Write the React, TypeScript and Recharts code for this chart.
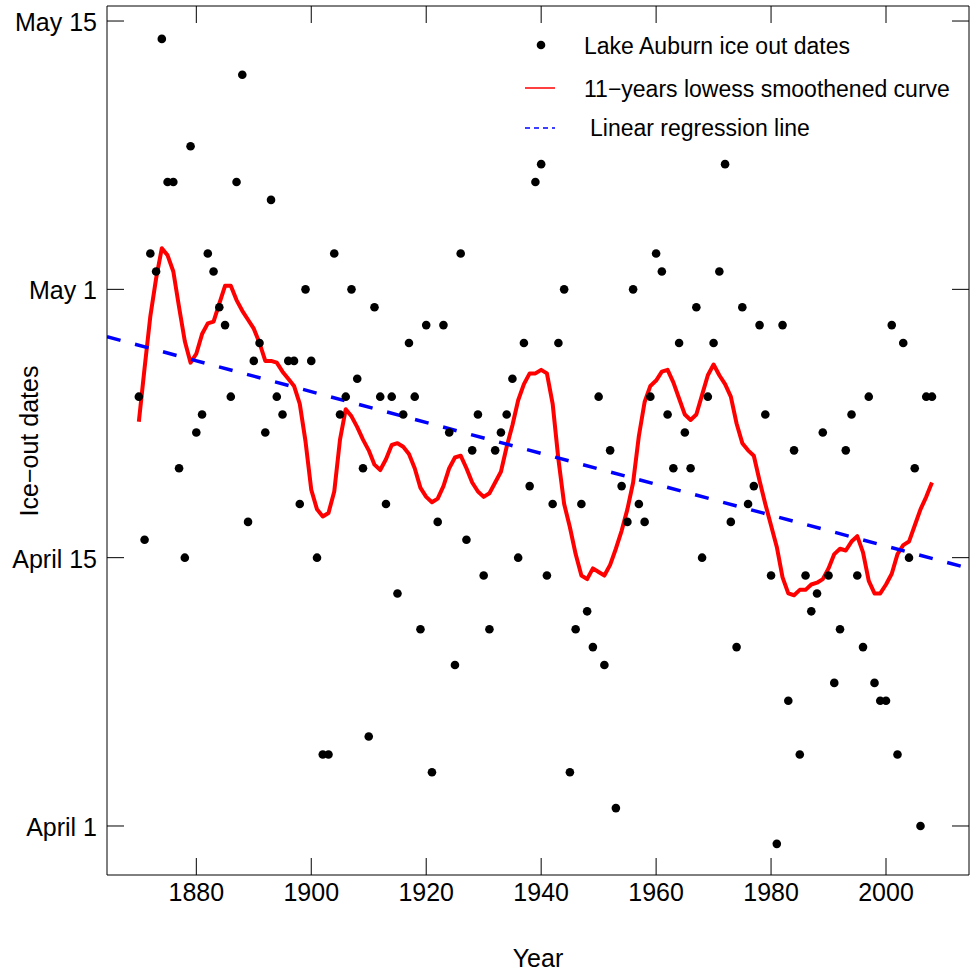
import React from "react";
import { ComposedChart, Line, Scatter, XAxis, YAxis } from "recharts";

// ice-out day, counted in days after April 1
const firstYear = 1870;
const iceOut = [
  24, 16, 32, 31, 44, 36, 36, 20, 15, 38,
  22, 23, 32, 31, 29, 28, 24, 36, 42, 17,
  26, 27, 22, 35, 24, 23, 26, 26, 18, 30,
  26, 15, 4, 4, 32, 23, 24, 30, 25, 20,
  5, 29, 24, 18, 24, 13, 23, 27, 24, 11,
  28, 3, 17, 28, 22, 9, 32, 16, 21, 23,
  14, 11, 21, 22, 23, 25, 15, 27, 19, 36,
  37, 14, 18, 27, 30, 3, 11, 18, 12, 10,
  24, 9, 21, 1, 19, 17, 30, 18, 17, 24,
  32, 31, 23, 20, 27, 22, 20, 29, 15, 24,
  27, 31, 37, 17, 10, 29, 18, 19, 28, 23,
  14, -1, 28, 7, 21, 4, 14, 12, 13, 22,
  14, 8, 11, 21, 23, 14, 10, 24, 8, 7,
  7, 28, 4, 27, 15, 20, 0, 24, 24,
];

// 11-year lowess curve, read per year
const lowess = [
  22.6, 25.6, 28.5, 30.6, 32.3, 31.9, 31.0, 29.0, 27.1, 25.9,
  26.4, 27.5, 28.1, 28.2, 29.2, 30.2, 30.2, 29.4, 28.8, 28.3,
  27.8, 27.0, 26.0, 26.0, 25.9, 25.4, 25.0, 24.6, 23.6, 21.5,
  18.8, 17.7, 17.3, 17.5, 18.7, 21.6, 23.3, 22.9, 22.3, 21.6,
  21.0, 20.2, 19.9, 20.5, 21.3, 21.4, 21.2, 20.8, 20.0, 18.9,
  18.4, 18.1, 18.3, 19.0, 20.0, 20.6, 20.7, 20.0, 19.2, 18.7,
  18.4, 18.6, 19.2, 19.8, 21.2, 22.4, 23.8, 24.7, 25.3, 25.3,
  25.5, 25.3, 23.6, 20.5, 18.0, 16.7, 15.2, 14.0, 13.8, 14.4,
  14.2, 14.0, 14.6, 15.5, 16.5, 17.7, 19.2, 21.8, 23.7, 24.6,
  24.9, 25.4, 25.5, 24.8, 23.9, 23.0, 22.7, 23.0, 24.1, 25.2,
  25.8, 25.2, 24.7, 24.0, 22.5, 21.4, 21.0, 20.7, 19.3, 18.0,
  16.8, 15.6, 13.9, 13.0, 12.9, 13.2, 13.2, 13.5, 13.6, 13.8,
  14.4, 15.2, 15.5, 15.4, 15.9, 16.2, 15.3, 13.7, 13.0, 13.0,
  13.5, 14.1, 15.2, 15.7, 15.9, 16.8, 17.7, 18.4, 19.2,
];

// linear regression line end points
const regYears = [1864.46, 2014.44];
const regValues = [27.35, 14.4];

const xTicks = [1880, 1900, 1920, 1940, 1960, 1980, 2000];
const yTicks = [0, 15, 30, 45];
const yTickLabels = ["April 1", "April 15", "May 1", "May 15"];

const years = iceOut.map((_, i) => firstYear + i);
const pointData = years.map((year, i) => ({ year, v: iceOut[i] }));
const lowessData = years.map((year, i) => ({ year, v: lowess[i] }));
const regData = regYears.map((year, i) => ({ year, v: regValues[i] }));

const FONT = "'Liberation Sans', Arial, Helvetica, sans-serif";
const AXIS_FS = 25;
const LEGEND_FS = 23;
const TICK = 17;
// tickSize + tickMargin, so the custom ticks can find the axis line
const OFF = 8;
const xDomain = [1864.46, 2014.44];
const yDomain = [-2.74, 45.84];

const BottomTick = ({ x, y, payload }: any) => {
  const base = y - OFF;
  return (
    <g>
      <line x1={x} y1={base} x2={x} y2={base - TICK} stroke="#000" strokeWidth={1} />
      <text x={x} y={base + 26} textAnchor="middle" fontSize={AXIS_FS} fontFamily={FONT} fill="#000">
        {payload.value}
      </text>
    </g>
  );
};

const TopTick = ({ x, y }: any) => {
  const base = y + OFF;
  return <line x1={x} y1={base} x2={x} y2={base + TICK} stroke="#000" strokeWidth={1} />;
};

const LeftTick = ({ x, y, payload }: any) => {
  const base = x + OFF;
  return (
    <g>
      <line x1={base} y1={y} x2={base + TICK} y2={y} stroke="#000" strokeWidth={1} />
      <text x={base - 10} y={y + 10} textAnchor="end" fontSize={AXIS_FS} fontFamily={FONT} fill="#000">
        {yTickLabels[yTicks.indexOf(payload.value)]}
      </text>
    </g>
  );
};

const RightTick = ({ x, y }: any) => {
  const base = x - OFF;
  return <line x1={base} y1={y} x2={base - TICK} y2={y} stroke="#000" strokeWidth={1} />;
};

const Dot = (props: any) => <circle cx={props.cx} cy={props.cy} r={4.3} fill="#000" />;

function Overlay() {
  const txt = { fontSize: LEGEND_FS, fontFamily: FONT, fill: "#000" };
  const ax = { fontSize: AXIS_FS, fontFamily: FONT, fill: "#000" };
  return (
    <svg width={970} height={974} style={{ position: "absolute", left: 0, top: 0, pointerEvents: "none" }}>
      <circle cx={541} cy={45} r={4.3} fill="#000" />
      <text x={584} y={54} {...txt}>Lake Auburn ice out dates</text>
      <line x1={525} y1={88} x2={555} y2={88} stroke="#ff0000" strokeWidth={1.5} />
      <text x={584} y={97} {...txt}>11−years lowess smoothened curve</text>
      <line x1={525} y1={128} x2={555} y2={128} stroke="#0000ff" strokeWidth={1.5} strokeDasharray="5 4" />
      <text x={590} y={136} {...txt}>Linear regression line</text>
      <text x={538} y={967} textAnchor="middle" {...ax}>Year</text>
      <text x={38} y={441} textAnchor="middle" transform="rotate(-90 38 441)" {...ax}>
        Ice−out dates
      </text>
    </svg>
  );
}

export default function App() {
  return (
    <div style={{ position: "relative", width: 970, height: 974, background: "#fff" }}>
      <style>{"body{margin:0}"}</style>
      <ComposedChart width={970} height={974} margin={{ top: 5, right: 0, bottom: 0, left: 0 }}>
        <XAxis
          dataKey="year"
          type="number"
          domain={xDomain}
          ticks={xTicks}
          allowDataOverflow
          height={99}
          tickSize={5}
          tickMargin={3}
          tickLine={false}
          tick={<BottomTick />}
          axisLine={{ stroke: "#000", strokeWidth: 1 }}
        />
        <XAxis
          xAxisId="top"
          orientation="top"
          dataKey="year"
          type="number"
          domain={xDomain}
          ticks={xTicks}
          allowDataOverflow
          height={1}
          tickSize={5}
          tickMargin={3}
          tickLine={false}
          tick={<TopTick />}
          axisLine={{ stroke: "#000", strokeWidth: 1 }}
        />
        <YAxis
          type="number"
          domain={yDomain}
          ticks={yTicks}
          allowDataOverflow
          width={107}
          tickSize={5}
          tickMargin={3}
          tickLine={false}
          tick={<LeftTick />}
          axisLine={{ stroke: "#000", strokeWidth: 1 }}
        />
        <YAxis
          yAxisId="right"
          orientation="right"
          type="number"
          domain={yDomain}
          ticks={yTicks}
          allowDataOverflow
          width={1}
          tickSize={5}
          tickMargin={3}
          tickLine={false}
          tick={<RightTick />}
          axisLine={{ stroke: "#000", strokeWidth: 1 }}
        />
        <Scatter data={pointData} dataKey="v" shape={<Dot />} isAnimationActive={false} />
        <Line
          data={lowessData}
          dataKey="v"
          type="linear"
          stroke="#ff0000"
          strokeWidth={4}
          dot={false}
          strokeLinejoin="round"
          isAnimationActive={false}
        />
        <Line
          data={regData}
          dataKey="v"
          type="linear"
          stroke="#0000ff"
          strokeWidth={3.5}
          strokeDasharray="14 15"
          dot={false}
          isAnimationActive={false}
        />
      </ComposedChart>
      <Overlay />
    </div>
  );
}
